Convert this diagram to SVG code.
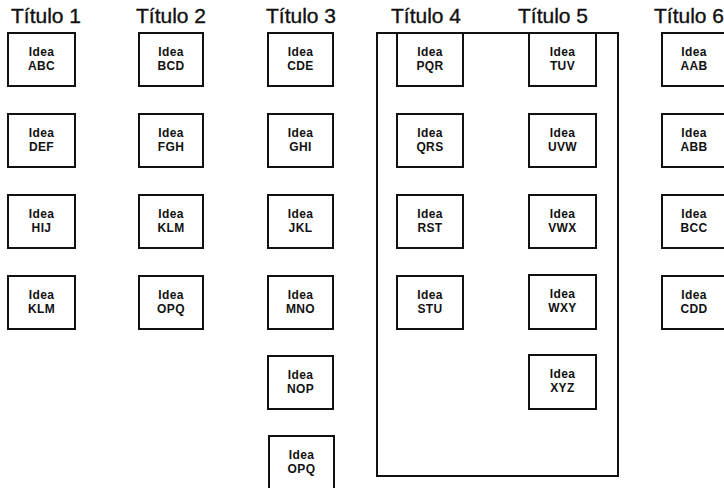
<svg xmlns="http://www.w3.org/2000/svg" width="724" height="488" viewBox="0 0 724 488">
<style>
.t{font-family:"Liberation Sans",Arial,sans-serif;font-size:21px;fill:#111;stroke:#111;stroke-width:0.35}
.b{fill:#fff;stroke:#111;stroke-width:2}
.l{font-family:"Liberation Sans",Arial,sans-serif;font-size:12px;font-weight:bold;fill:#111;text-anchor:middle;letter-spacing:0.4px}
.c{fill:none;stroke:#111;stroke-width:2}
</style>
<rect width="724" height="488" fill="#fff"/>
<g id="titles">
<text class="t" x="11" y="23">Título 1</text>
<text class="t" x="136" y="23">Título 2</text>
<text class="t" x="266" y="23">Título 3</text>
<text class="t" x="391" y="23">Título 4</text>
<text class="t" x="518" y="23">Título 5</text>
<text class="t" x="654" y="23">Título 6</text>
</g>
<g id="container"><rect class="c" x="377" y="33" width="241" height="443"/></g>
<g id="connectors"></g>
<g id="n1"><rect class="b" x="8" y="33" width="67" height="53"/><text class="l" x="41.5" y="56">Idea</text><text class="l" x="41.5" y="70">ABC</text></g>
<g id="n2"><rect class="b" x="8" y="114" width="67" height="53"/><text class="l" x="41.5" y="137">Idea</text><text class="l" x="41.5" y="151">DEF</text></g>
<g id="n3"><rect class="b" x="8" y="195" width="67" height="53"/><text class="l" x="41.5" y="218">Idea</text><text class="l" x="41.5" y="232">HIJ</text></g>
<g id="n4"><rect class="b" x="8" y="276" width="67" height="53"/><text class="l" x="41.5" y="299">Idea</text><text class="l" x="41.5" y="313">KLM</text></g>
<g id="n5"><rect class="b" x="139" y="33" width="64" height="53"/><text class="l" x="171" y="56">Idea</text><text class="l" x="171" y="70">BCD</text></g>
<g id="n6"><rect class="b" x="139" y="114" width="64" height="53"/><text class="l" x="171" y="137">Idea</text><text class="l" x="171" y="151">FGH</text></g>
<g id="n7"><rect class="b" x="139" y="195" width="64" height="53"/><text class="l" x="171" y="218">Idea</text><text class="l" x="171" y="232">KLM</text></g>
<g id="n8"><rect class="b" x="139" y="276" width="64" height="53"/><text class="l" x="171" y="299">Idea</text><text class="l" x="171" y="313">OPQ</text></g>
<g id="n9"><rect class="b" x="268" y="33" width="65" height="53"/><text class="l" x="300.5" y="56">Idea</text><text class="l" x="300.5" y="70">CDE</text></g>
<g id="n10"><rect class="b" x="268" y="114" width="65" height="53"/><text class="l" x="300.5" y="137">Idea</text><text class="l" x="300.5" y="151">GHI</text></g>
<g id="n11"><rect class="b" x="268" y="195" width="65" height="53"/><text class="l" x="300.5" y="218">Idea</text><text class="l" x="300.5" y="232">JKL</text></g>
<g id="n12"><rect class="b" x="268" y="276" width="65" height="53"/><text class="l" x="300.5" y="299">Idea</text><text class="l" x="300.5" y="313">MNO</text></g>
<g id="n13"><rect class="b" x="268" y="356" width="65" height="53"/><text class="l" x="300.5" y="379">Idea</text><text class="l" x="300.5" y="393">NOP</text></g>
<g id="n14"><rect class="b" x="269" y="436" width="65" height="56"/><text class="l" x="301.5" y="459">Idea</text><text class="l" x="301.5" y="473">OPQ</text></g>
<g id="n15"><rect class="b" x="397" y="33" width="66" height="53"/><text class="l" x="430" y="56">Idea</text><text class="l" x="430" y="70">PQR</text></g>
<g id="n16"><rect class="b" x="397" y="114" width="66" height="53"/><text class="l" x="430" y="137">Idea</text><text class="l" x="430" y="151">QRS</text></g>
<g id="n17"><rect class="b" x="397" y="195" width="66" height="53"/><text class="l" x="430" y="218">Idea</text><text class="l" x="430" y="232">RST</text></g>
<g id="n18"><rect class="b" x="397" y="276" width="66" height="53"/><text class="l" x="430" y="299">Idea</text><text class="l" x="430" y="313">STU</text></g>
<g id="n19"><rect class="b" x="529" y="33" width="67" height="53"/><text class="l" x="562.5" y="56">Idea</text><text class="l" x="562.5" y="70">TUV</text></g>
<g id="n20"><rect class="b" x="529" y="114" width="67" height="53"/><text class="l" x="562.5" y="137">Idea</text><text class="l" x="562.5" y="151">UVW</text></g>
<g id="n21"><rect class="b" x="529" y="195" width="67" height="53"/><text class="l" x="562.5" y="218">Idea</text><text class="l" x="562.5" y="232">VWX</text></g>
<g id="n22"><rect class="b" x="529" y="275" width="67" height="54"/><text class="l" x="562.5" y="298">Idea</text><text class="l" x="562.5" y="312">WXY</text></g>
<g id="n23"><rect class="b" x="529" y="355" width="67" height="54"/><text class="l" x="562.5" y="378">Idea</text><text class="l" x="562.5" y="392">XYZ</text></g>
<g id="n24"><rect class="b" x="662" y="33" width="66" height="53"/><text class="l" x="694" y="56">Idea</text><text class="l" x="694" y="70">AAB</text></g>
<g id="n25"><rect class="b" x="662" y="114" width="66" height="53"/><text class="l" x="694" y="137">Idea</text><text class="l" x="694" y="151">ABB</text></g>
<g id="n26"><rect class="b" x="662" y="195" width="66" height="53"/><text class="l" x="694" y="218">Idea</text><text class="l" x="694" y="232">BCC</text></g>
<g id="n27"><rect class="b" x="662" y="276" width="66" height="53"/><text class="l" x="694" y="299">Idea</text><text class="l" x="694" y="313">CDD</text></g>
</svg>
